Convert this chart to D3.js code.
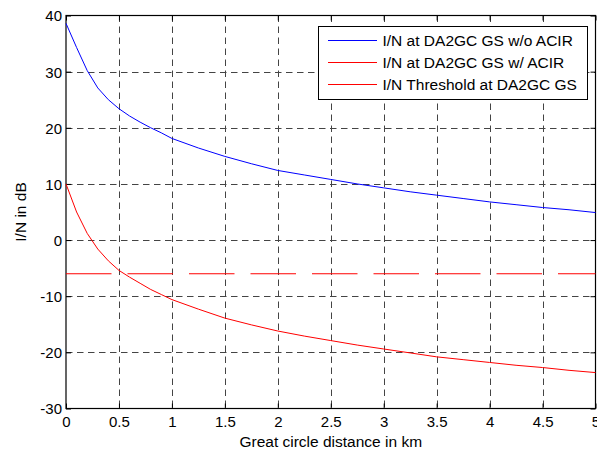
<!DOCTYPE html>
<html>
<head>
<meta charset="utf-8">
<script src="https://cdn.jsdelivr.net/npm/d3@7"></script>
<style>
  html, body { margin: 0; padding: 0; background: #fff; }
  svg { display: block; font-family: "Liberation Sans", Arial, sans-serif; }
</style>
</head>
<body>
<svg id="chart" width="597" height="452"></svg>
<script>
// Great circle distance (km) at which I/N was evaluated
const distanceKm = [0, 0.1, 0.2, 0.3, 0.4, 0.5, 0.6, 0.7, 0.8, 0.9, 1.0,
  1.25, 1.5, 1.75, 2.0, 2.25, 2.5, 2.75, 3.0, 3.25, 3.5, 3.75, 4.0, 4.25, 4.5, 4.75, 5.0];

// I/N (dB) at the DA2GC ground station without ACIR
const inNoAcir = [38.6, 34.3, 30.2, 27.1, 25.0, 23.4, 22.1, 21.0, 20.0, 19.1, 18.1,
  16.4, 14.9, 13.6, 12.4, 11.6, 10.8, 10.0, 9.3, 8.6, 8.0, 7.4, 6.8, 6.3, 5.8, 5.4, 4.9];

// I/N (dB) at the DA2GC ground station with ACIR
const inWithAcir = [10.0, 5.0, 1.2, -1.6, -3.7, -5.4, -6.6, -7.7, -8.8, -9.7, -10.6,
  -12.3, -13.9, -15.1, -16.2, -17.1, -17.9, -18.7, -19.4, -20.1, -20.8, -21.3, -21.8, -22.3, -22.7, -23.2, -23.6];

// Protection threshold (dB)
const thresholdX = [0, 5];
const thresholdY = [-6, -6];

const xTicks = [0, 0.5, 1, 1.5, 2, 2.5, 3, 3.5, 4, 4.5, 5];
const yTicks = [-30, -20, -10, 0, 10, 20, 30, 40];

const seriesNames = [
  "I/N at DA2GC GS w/o ACIR",
  "I/N at DA2GC GS w/ ACIR",
  "I/N Threshold at DA2GC GS"
];
const seriesColors = ["#0000ff", "#ff0000", "#ff0000"];

const svg = d3.select("#chart");
const L = 66, R = 595.5, T = 15.5, B = 408.5;

const x = d3.scaleLinear().domain([0, 5]).range([L, R]);
const y = d3.scaleLinear().domain([-30, 40]).range([B, T]);

// Grid lines
const grid = svg.append("g").attr("stroke", "#444").attr("stroke-width", 1)
  .attr("stroke-dasharray", "6.5,4.5").attr("fill", "none");
xTicks.slice(1, -1).forEach(t => {
  grid.append("line").attr("x1", Math.round(x(t)) + 0.5).attr("x2", Math.round(x(t)) + 0.5)
    .attr("y1", T).attr("y2", B);
});
yTicks.slice(1, -1).forEach(t => {
  grid.append("line").attr("y1", Math.round(y(t)) + 0.5).attr("y2", Math.round(y(t)) + 0.5)
    .attr("x1", L).attr("x2", R);
});

// Axes: bottom/left with labels, top/right mirror ticks only
const tickLen = 5;
const fmt = d => String(d);
const axB = svg.append("g").attr("transform", `translate(0,${B})`)
  .call(d3.axisBottom(x).tickValues(xTicks).tickFormat(fmt).tickSizeInner(-tickLen).tickSizeOuter(0).tickPadding(8));
const axL = svg.append("g").attr("transform", `translate(${L},0)`)
  .call(d3.axisLeft(y).tickValues(yTicks).tickFormat(fmt).tickSizeInner(-tickLen).tickSizeOuter(0).tickPadding(4));
const axT = svg.append("g").attr("transform", `translate(0,${T})`)
  .call(d3.axisTop(x).tickValues(xTicks).tickFormat("").tickSizeInner(-tickLen).tickSizeOuter(0));
const axR = svg.append("g").attr("transform", `translate(${R},0)`)
  .call(d3.axisRight(y).tickValues(yTicks).tickFormat("").tickSizeInner(-tickLen).tickSizeOuter(0));

[axB, axL, axT, axR].forEach(g => {
  g.select(".domain").remove();
  g.selectAll(".tick line").attr("stroke", "#000").attr("stroke-width", 1);
  g.selectAll("text").attr("fill", "#000").style("font-size", "15px")
    .style("font-family", "'Liberation Sans', Arial, sans-serif");
});
axL.selectAll("text").attr("dy", "0.36em");

// Axes box
svg.append("rect").attr("x", L).attr("y", T).attr("width", R - L).attr("height", B - T)
  .attr("fill", "none").attr("stroke", "#000").attr("stroke-width", 1.2);

// Data lines
const line = d3.line().x(d => x(d[0])).y(d => y(d[1]));
svg.append("path").datum(distanceKm.map((d, i) => [d, inNoAcir[i]]))
  .attr("d", line).attr("fill", "none").attr("stroke", seriesColors[0]).attr("stroke-width", 1);
svg.append("path").datum(distanceKm.map((d, i) => [d, inWithAcir[i]]))
  .attr("d", line).attr("fill", "none").attr("stroke", seriesColors[1]).attr("stroke-width", 1);
svg.append("path").datum(thresholdX.map((d, i) => [d, thresholdY[i]]))
  .attr("d", line).attr("fill", "none").attr("stroke", seriesColors[2]).attr("stroke-width", 1)
  .attr("stroke-dasharray", "45.5,16");

// Axis titles
svg.append("text").attr("x", (L + R) / 2).attr("y", 447).attr("text-anchor", "middle")
  .style("font-size", "15.5px").text("Great circle distance in km");
svg.append("text").attr("transform", `translate(25.5,${(T + B) / 2}) rotate(-90)`)
  .attr("text-anchor", "middle").style("font-size", "15.5px").text("I/N in dB");

// Legend
const lg = svg.append("g");
lg.append("rect").attr("x", 318.5).attr("y", 26.5).attr("width", 269).attr("height", 73)
  .attr("fill", "#fff").attr("stroke", "#000").attr("stroke-width", 1);
const rowY = [40.5, 62.5, 84.5];
seriesNames.forEach((name, i) => {
  lg.append("line").attr("x1", 328).attr("x2", 377).attr("y1", rowY[i]).attr("y2", rowY[i])
    .attr("stroke", seriesColors[i]).attr("stroke-width", 1);
  lg.append("text").attr("x", 382.5).attr("y", rowY[i]).attr("dy", "0.36em")
    .style("font-size", "15.5px").text(name);
});
</script>
</body>
</html>
